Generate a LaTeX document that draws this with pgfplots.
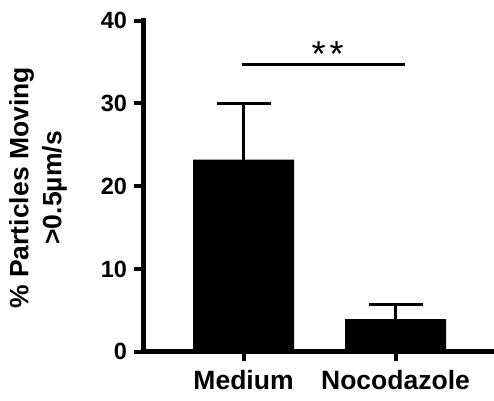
\documentclass[border=0pt]{standalone}
\usepackage{fontspec}
\setmainfont{Liberation Sans}
\usepackage{pgfplots}
\pgfplotsset{compat=1.18}
\begin{document}
\begin{tikzpicture}
\begin{axis}[
  at={(0,0)}, anchor=south west,
  scale only axis,
  width=350.5pt, height=331pt,
  xmin=-0.658, xmax=1.648,
  ymin=0, ymax=40,
  axis x line*=bottom, axis y line*=left,
  ytick={0,10,20,30,40},
  xtick={0,1}, xticklabels={Medium,Nocodazole},
  tick align=outside,
  major tick length=9pt,
  every tick/.style={line width=4pt, black},
  axis line style={line width=4.5pt, line cap=rect},
  /pgf/number format/assume math mode=true,
  yticklabel style={font=\bfseries\fontsize{23.5}{27}\selectfont, xshift=-4pt},
  xticklabel style={font=\bfseries\fontsize{26.5}{30}\selectfont, yshift=-6pt},
  ylabel={\% Particles Moving\\>0.5µm/s},
  ylabel style={at={(axis description cs:-0.301,0.495)}, anchor=center, align=center, font=\bfseries\fontsize{26.5}{33}\selectfont},
  clip=false,
]
\addplot[ybar, bar width=101pt, fill=black, draw=none,
  error bars/.cd, y dir=plus, y explicit,
  error bar style={line width=3pt, black},
  error mark options={rotate=90, mark size=27pt, line width=3pt, black}]
  coordinates {(0,23.2) +- (0,6.85) (1,3.95) +- (0,1.73)};
\addplot[line width=2.5pt, black, mark=none] coordinates {(-0.013,34.7) (1.0625,34.7)};
\node[anchor=base, font=\fontsize{36}{36}\selectfont] at (axis cs:0.553,34.5) {*\kern4pt*};
\end{axis}
\pgfresetboundingbox
\path[use as bounding box] (-143.5pt,-48.3pt) rectangle (350.5pt,351.7pt);
\end{tikzpicture}
\end{document}
